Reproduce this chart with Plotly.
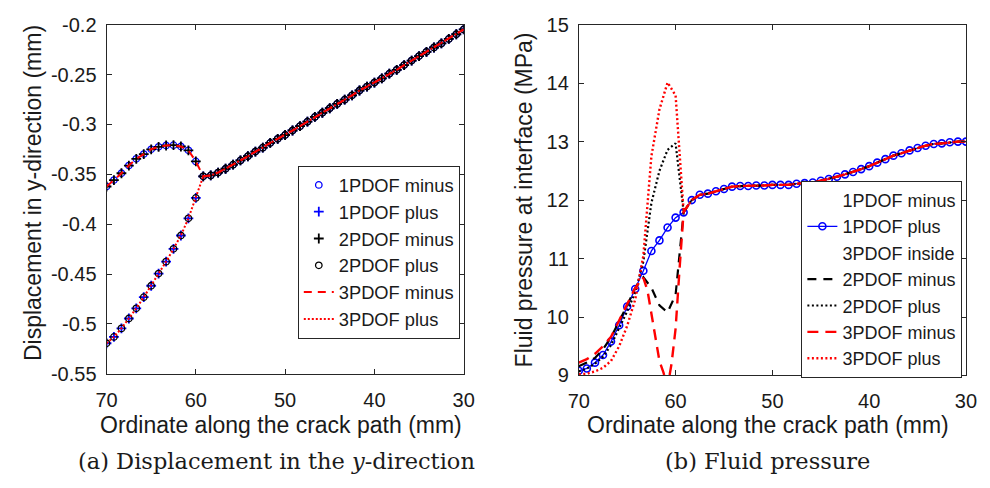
import plotly.graph_objects as go

# ---------------- data: (a) displacement ----------------
x_branch = [70, 69.17, 68.33, 67.5, 66.67, 65.83, 65, 64.17, 63.33, 62.5, 61.67, 60.83, 60]
x_common = [59.17, 58.33, 57.5, 56.67, 55.83, 55, 54.17, 53.33, 52.5, 51.67, 50.83, 50,
            49.17, 48.33, 47.5, 46.67, 45.83, 45, 44.17, 43.33, 42.5, 41.67, 40.83, 40,
            39.17, 38.33, 37.5, 36.67, 35.83, 35, 34.17, 33.33, 32.5, 31.67, 30.83, 30]
disp_minus_branch = [-0.3622, -0.3558, -0.3489, -0.3412, -0.3345, -0.3297, -0.3249, -0.3224,
                     -0.3211, -0.3208, -0.3221, -0.3259, -0.3371]
disp_plus_branch = [-0.5193, -0.5130, -0.5044, -0.4945, -0.4843, -0.4731, -0.4617, -0.4495,
                    -0.4375, -0.4247, -0.4113, -0.3941, -0.3737]
disp_common = [-0.3520, -0.3511, -0.3482, -0.3444, -0.3403, -0.3361, -0.3319, -0.3272, -0.3233,
               -0.3185, -0.3144, -0.3106, -0.3061, -0.3017, -0.2972, -0.2925, -0.2883, -0.2838,
               -0.2794, -0.2752, -0.2708, -0.2660, -0.2621, -0.2580, -0.2539, -0.2491, -0.2453,
               -0.2405, -0.2360, -0.2315, -0.2272, -0.2229, -0.2188, -0.2143, -0.2096, -0.2048]

# ---------------- data: (b) fluid pressure ----------------
x_tip = [70, 69.17, 68.33, 67.5, 66.67, 65.83, 65, 64.17, 63.33, 62.5, 61.67, 60.83, 60, 59.17]
x_far = [58.33, 57.5, 56.67, 55.83, 55, 54.17, 53.33, 52.5, 51.67, 50.83, 50,
         49.17, 48.33, 47.5, 46.67, 45.83, 45, 44.17, 43.33, 42.5, 41.67, 40.83, 40,
         39.17, 38.33, 37.5, 36.67, 35.83, 35, 34.17, 33.33, 32.5, 31.67, 30.83, 30]
p_far = [12.00, 12.09, 12.11, 12.15, 12.19, 12.23, 12.24, 12.24, 12.25, 12.25, 12.26, 12.26,
         12.26, 12.28, 12.29, 12.30, 12.33, 12.36, 12.40, 12.44, 12.48, 12.53, 12.58, 12.64,
         12.70, 12.76, 12.80, 12.85, 12.89, 12.93, 12.96, 12.97, 12.99, 13.00, 13.00]
p_1pdof_tip = [9.08, 9.12, 9.22, 9.35, 9.58, 9.86, 10.18, 10.48, 10.79, 11.13, 11.31, 11.53, 11.70, 11.79]
p_2pdof_minus_tip = [9.16, 9.22, 9.30, 9.45, 9.65, 9.92, 10.20, 10.50, 10.68, 10.50, 10.20, 10.08, 10.38, 11.79]
p_2pdof_plus_tip = [9.07, 9.12, 9.20, 9.32, 9.52, 9.80, 10.10, 10.42, 10.95, 11.95, 12.50, 12.86, 12.97, 11.80]
x_3minus_tip = [70, 69.17, 68.33, 67.5, 66.67, 65.83, 65, 64.17, 63.33, 62.9, 62.5, 62.1, 61.67,
                61.25, 60.83, 60.42, 60, 59.58, 59.17]
p_3pdof_minus_tip = [9.22, 9.28, 9.37, 9.50, 9.66, 9.93, 10.22, 10.50, 10.67, 10.45, 10.05, 9.62,
                     9.25, 9.05, 8.80, 9.20, 9.80, 10.85, 11.80]
p_3pdof_plus_tip = [9.02, 9.03, 9.07, 9.13, 9.25, 9.50, 9.85, 10.30, 11.05, 12.75, 13.55, 14.01, 13.79, 11.80]

x_ticks = [70, 60, 50, 40, 30]
x_ticklabels = ["70", "60", "50", "40", "30"]
disp_ticks = [-0.55, -0.5, -0.45, -0.4, -0.35, -0.3, -0.25, -0.2]
disp_ticklabels = ["-0.55", "-0.5", "-0.45", "-0.4", "-0.35", "-0.3", "-0.25", "-0.2"]
p_ticks = [9, 10, 11, 12, 13, 14, 15]
p_ticklabels = ["9", "10", "11", "12", "13", "14", "15"]

# ---------------- figure ----------------
W, H = 990, 488
BLUE = "#0000ff"
RED = "#ff0000"
BLK = "#000000"
AX = "#262626"
FONT = "Liberation Sans, Arial, Helvetica, sans-serif"

fig = go.Figure()

minus_x = x_branch + x_common
plus_x = x_branch + x_common
minus_y = disp_minus_branch + disp_common
plus_y = disp_plus_branch + disp_common

fig.add_trace(go.Scatter(x=minus_x, y=minus_y, mode="markers", name="1PDOF minus",
                         marker=dict(symbol="circle-open", size=6.5, color=BLUE, line=dict(width=1.3, color=BLUE)),
                         xaxis="x", yaxis="y", legend="legend"))
fig.add_trace(go.Scatter(x=plus_x, y=plus_y, mode="markers", name="1PDOF plus",
                         marker=dict(symbol="cross-thin-open", size=7, color=BLUE, line=dict(width=1.8, color=BLUE)),
                         xaxis="x", yaxis="y", legend="legend"))
fig.add_trace(go.Scatter(x=minus_x, y=minus_y, mode="markers", name="2PDOF minus",
                         marker=dict(symbol="cross-thin-open", size=7, color=BLK, line=dict(width=1.8, color=BLK)),
                         xaxis="x", yaxis="y", legend="legend"))
fig.add_trace(go.Scatter(x=plus_x, y=plus_y, mode="markers", name="2PDOF plus",
                         marker=dict(symbol="circle-open", size=6.5, color=BLK, line=dict(width=1.3, color=BLK)),
                         xaxis="x", yaxis="y", legend="legend"))
fig.add_trace(go.Scatter(x=minus_x, y=minus_y, mode="lines", name="3PDOF minus",
                         line=dict(color=RED, width=2, dash="8px,6px"),
                         xaxis="x", yaxis="y", legend="legend"))
fig.add_trace(go.Scatter(x=plus_x, y=plus_y, mode="lines", name="3PDOF plus",
                         line=dict(color=RED, width=2, dash="2px,2px"),
                         xaxis="x", yaxis="y", legend="legend"))

# right panel
blue_x = x_tip + x_far
blue_y = p_1pdof_tip + p_far
fig.add_trace(go.Scatter(x=blue_x, y=blue_y, mode="lines", name="1PDOF minus",
                         line=dict(color="rgba(255,255,255,0)", width=1),
                         xaxis="x2", yaxis="y2", legend="legend2", hoverinfo="skip"))
fig.add_trace(go.Scatter(x=blue_x, y=blue_y, mode="lines+markers", name="1PDOF plus",
                         line=dict(color=BLUE, width=1.3),
                         marker=dict(symbol="circle-open", size=7, color=BLUE, line=dict(width=1.6, color=BLUE)),
                         xaxis="x2", yaxis="y2", legend="legend2"))
fig.add_trace(go.Scatter(x=x_far, y=p_far, mode="lines", name="3PDOF inside",
                         line=dict(color="rgba(255,255,255,0)", width=1),
                         xaxis="x2", yaxis="y2", legend="legend2", hoverinfo="skip"))
fig.add_trace(go.Scatter(x=x_tip + x_far, y=p_2pdof_minus_tip + p_far, mode="lines", name="2PDOF minus",
                         line=dict(color=BLK, width=2.2, dash="9px,7px"),
                         xaxis="x2", yaxis="y2", legend="legend2"))
fig.add_trace(go.Scatter(x=x_tip + x_far, y=p_2pdof_plus_tip + p_far, mode="lines", name="2PDOF plus",
                         line=dict(color=BLK, width=2.2, dash="2px,2.5px"),
                         xaxis="x2", yaxis="y2", legend="legend2"))
fig.add_trace(go.Scatter(x=x_3minus_tip + x_far, y=p_3pdof_minus_tip + p_far, mode="lines", name="3PDOF minus",
                         line=dict(color=RED, width=2.4, dash="11px,7px"),
                         xaxis="x2", yaxis="y2", legend="legend2"))
fig.add_trace(go.Scatter(x=x_tip + x_far, y=p_3pdof_plus_tip + p_far, mode="lines", name="3PDOF plus",
                         line=dict(color=RED, width=2.4, dash="2px,2.5px"),
                         xaxis="x2", yaxis="y2", legend="legend2"))

def px(v):
    return v / W

def py(v):
    return 1 - v / H

axis_common = dict(showline=True, linecolor=AX, linewidth=1, mirror="ticks", ticks="inside",
                   ticklen=5, tickcolor=AX, tickwidth=1, showgrid=False, zeroline=False,
                   tickfont=dict(family=FONT, size=20, color="#1a1a1a"))

L_X0, L_X1, L_Y0, L_Y1 = 97.7, 463, 14.3, 380
R_X0, R_X1, R_Y0, R_Y1 = 580.7, 976.7, 14.3, 381.7

fig.update_layout(
    width=W, height=H, margin=dict(l=0, r=0, t=0, b=0),
    paper_bgcolor="white", plot_bgcolor="white",
    showlegend=True,
    xaxis=dict(domain=[px(L_X0), px(L_X1)], range=[70, 30], tickvals=x_ticks, ticktext=x_ticklabels,
               anchor="y", ticklabelstandoff=8, **axis_common),
    yaxis=dict(domain=[py(L_Y1), py(L_Y0)], range=[-0.55, -0.2], tickvals=disp_ticks, ticktext=disp_ticklabels,
               anchor="x", ticklabelstandoff=5, **axis_common),
    xaxis2=dict(domain=[px(R_X0), px(R_X1)], range=[70, 30], tickvals=x_ticks, ticktext=x_ticklabels,
                anchor="y2", ticklabelstandoff=8, **axis_common),
    yaxis2=dict(domain=[py(R_Y1), py(R_Y0)], range=[9, 15], tickvals=p_ticks, ticktext=p_ticklabels,
                anchor="x2", ticklabelstandoff=5, **axis_common),
    legend=dict(x=px(459), xanchor="right", y=py(343), yanchor="bottom",
                bgcolor="white", bordercolor=AX, borderwidth=1,
                font=dict(family=FONT, size=18.3, color="#1a1a1a"), itemwidth=30),
    legend2=dict(x=px(973), xanchor="right", y=py(384), yanchor="bottom",
                 bgcolor="white", bordercolor=AX, borderwidth=1,
                 font=dict(family=FONT, size=18, color="#1a1a1a"), itemwidth=30),
)

title_font = dict(family=FONT, size=23, color="#1a1a1a")
cap_font = dict(family="DejaVu Serif, serif", size=22.5, color="#1a1a1a")
annos = [
    dict(text="Ordinate along the crack path (mm)", x=px((L_X0 + L_X1) / 2 - 4), y=py(434),
         font=title_font),
    dict(text="Ordinate along the crack path (mm)", x=px((R_X0 + R_X1) / 2 - 4), y=py(434),
         font=title_font),
    dict(text="Displacement in y-direction (mm)", x=px(22), y=py((L_Y0 + L_Y1) / 2 - 6),
         textangle=-90, font=title_font),
    dict(text="Fluid pressure at interface (MPa)", x=px(525), y=py((R_Y0 + R_Y1) / 2),
         textangle=-90, font=title_font),
    dict(text="(a) Displacement in the <i>y</i>-direction", x=px(272), y=py(471), font=cap_font),
    dict(text="(b) Fluid pressure", x=px(774), y=py(471), font=cap_font),
]
for a in annos:
    fig.add_annotation(xref="paper", yref="paper", showarrow=False, xanchor="center", yanchor="middle", **a)

fig.write_html("out.html")
